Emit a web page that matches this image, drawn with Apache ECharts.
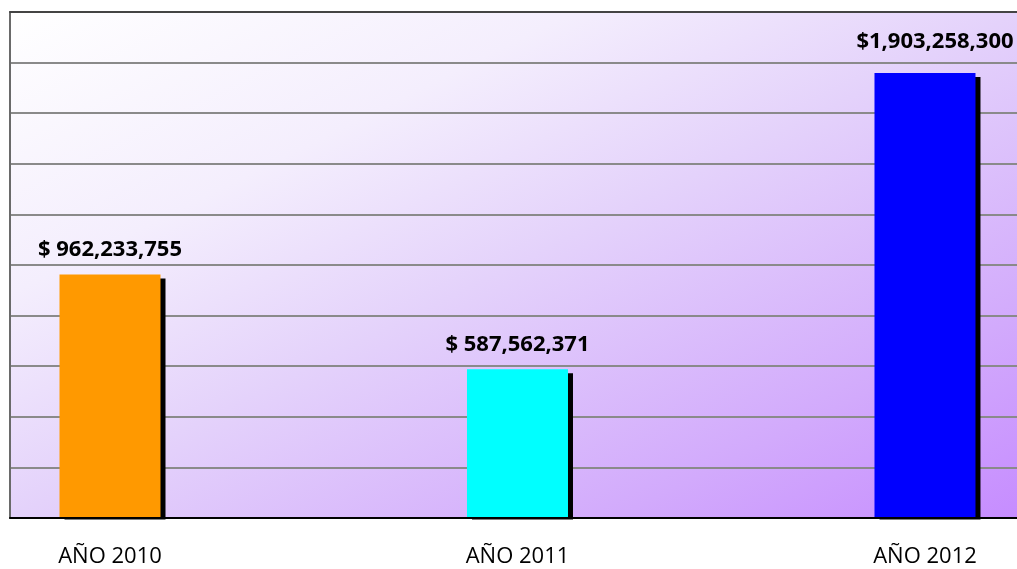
<!DOCTYPE html>
<html>
<head>
<meta charset="utf-8">
<script src="https://cdn.jsdelivr.net/npm/echarts@6/dist/echarts.min.js"></script>
<style>
  html, body { margin: 0; padding: 0; background: #fff; }
  #main { width: 1017px; height: 569px; }
</style>
</head>
<body>
<div id="main"></div>
<script>
// datos
const years = ['AÑO 2010', 'AÑO 2011', 'AÑO 2012'];
const values = [962233755, 587562371, 1759000000]; // altura de barra (la de 2012 no coincide con su etiqueta)
const valueLabels = ['$ 962,233,755', '$ 587,562,371', '$1,903,258,300'];
const barColors = ['#ff9900', '#00ffff', '#0000ff'];

const myChart = echarts.init(document.getElementById('main'));

const option = {
  animation: false,
  grid: {
    left: 10,
    right: 0,
    top: 12,
    bottom: 51,
    show: true,
    borderWidth: 0,
    // degradado diagonal blanco -> lila
    backgroundColor: new echarts.graphic.LinearGradient(10, 12, 414, 820, [
      { offset: 0, color: '#ffffff' },
      { offset: 0.28, color: '#f4eefd' },
      { offset: 0.5, color: '#e4d2fb' },
      { offset: 0.8, color: '#d2aafc' },
      { offset: 1, color: '#c68cff' }
    ], true)
  },
  // tapa la sombra que asoma bajo el eje
  graphic: [
    {
      type: 'rect',
      z: 100,
      shape: { x: 0, y: 519.5, width: 1017, height: 6 },
      style: { fill: '#fff' }
    }
  ],
  xAxis: [
    {
      type: 'value',
      min: -0.2454,
      max: 2.2258,
      z: 5,
      splitLine: { show: false },
      axisTick: { show: false },
      axisLine: { onZero: false, lineStyle: { color: '#000', width: 2 } },
      axisLabel: {
        customValues: [0, 1, 2],
        formatter: v => years[v],
        fontFamily: 'Open Sans',
        fontSize: 22,
        color: '#000',
        margin: 28
      }
    },
    {
      // borde superior del area
      type: 'value',
      position: 'top',
      min: 0,
      max: 1,
      z: 5,
      splitLine: { show: false },
      axisTick: { show: false },
      axisLabel: { show: false },
      axisLine: { onZero: false, lineStyle: { color: '#444', width: 2 } }
    }
  ],
  yAxis: {
    type: 'value',
    min: 0,
    max: 2000000000,
    interval: 200000000,
    axisLabel: { show: false },
    axisTick: { show: false },
    axisLine: { show: true, onZero: false, lineStyle: { color: '#6a6a6a', width: 2 } },
    splitLine: { lineStyle: { color: '#8a8a8a', width: 2 } }
  },
  series: [
    {
      type: 'bar',
      barWidth: 101,
      data: values.map((v, i) => ({
        value: [i, v],
        itemStyle: { color: barColors[i] },
        label: i === 2 ? { offset: [10, -6] } : {}
      })),
      itemStyle: {
        shadowColor: '#000',
        shadowOffsetX: 5,
        shadowOffsetY: 4,
        shadowBlur: 0
      },
      label: {
        show: true,
        position: 'top',
        distance: 14,
        fontFamily: 'Open Sans',
        fontWeight: 'bold',
        fontSize: 22,
        color: '#000',
        formatter: p => valueLabels[p.dataIndex]
      }
    }
  ]
};

option && myChart.setOption(option);
</script>
</body>
</html>
